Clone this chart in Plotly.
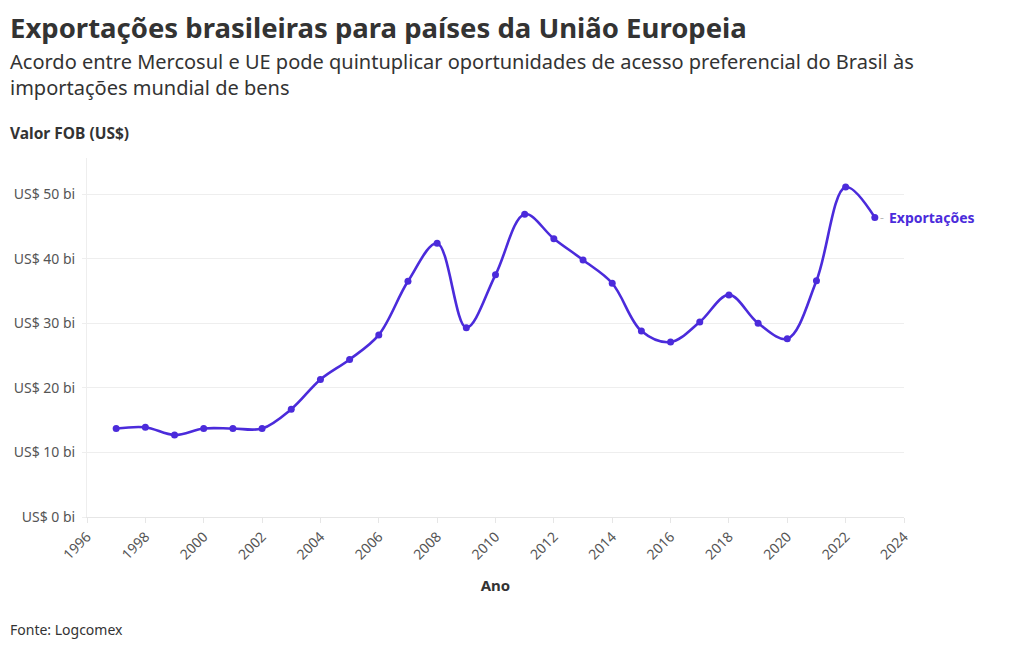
import plotly.graph_objects as go

years = list(range(1997, 2024))
exports_bi = [13.7, 13.9, 12.7, 13.7, 13.7, 13.7, 16.7, 21.3, 24.4, 28.2,
              36.5, 42.4, 29.3, 37.5, 46.9, 43.1, 39.8, 36.2, 28.8, 27.1,
              30.2, 34.4, 30.0, 27.6, 36.6, 51.1, 46.4]
series_name = "Exportações"
y_ticks = [0, 10, 20, 30, 40, 50]
y_ticklabels = ["US$ 0 bi", "US$ 10 bi", "US$ 20 bi", "US$ 30 bi", "US$ 40 bi", "US$ 50 bi"]

title = "Exportações brasileiras para países da União Europeia"
subtitle = ("Acordo entre Mercosul e UE pode quintuplicar oportunidades de acesso preferencial do Brasil às<br>"
            "importações mundial de bens")
y_title = "Valor FOB (US$)"
x_title = "Ano"
source = "Fonte: Logcomex"

FONT = "Noto Sans"
LINE = "#4B2BDB"
TXT = "#333333"
XS = -79

fig = go.Figure()
fig.add_trace(go.Scatter(
    x=years, y=exports_bi, mode="lines+markers", name=series_name,
    line=dict(color=LINE, width=2.6, shape="spline", smoothing=1.0),
    marker=dict(color=LINE, size=7),
    showlegend=False,
))

fig.add_annotation(
    x=years[-1], y=exports_bi[-1], xref="x", yref="y",
    text="<b>" + series_name + "</b>", showarrow=False,
    xanchor="left", yanchor="middle", xshift=12,
    font=dict(family=FONT, size=14, color=LINE),
)
fig.add_annotation(
    x=years[-1], y=exports_bi[-1], xref="x", yref="y",
    text="-", showarrow=False, xanchor="left", yanchor="middle", xshift=3,
    font=dict(family=FONT, size=12, color="#bbbbbb"),
)

fig.update_layout(
    width=1012, height=642,
    margin=dict(l=79, r=116, t=150, b=133),
    paper_bgcolor="white", plot_bgcolor="white",
    font=dict(family=FONT, color=TXT),
    annotations=list(fig.layout.annotations) + [
        dict(text="<b>" + title + "</b>", x=0, y=1, xref="paper", yref="paper",
             xanchor="left", yanchor="top", showarrow=False, xshift=XS, yshift=151,
             font=dict(family=FONT, size=27.5, color=TXT)),
        dict(text=subtitle, x=0, y=1, xref="paper", yref="paper",
             xanchor="left", yanchor="top", showarrow=False, xshift=XS, yshift=112, align="left",
             font=dict(family=FONT, size=20, color=TXT)),
        dict(text="<b>" + y_title + "</b>", x=0, y=1, xref="paper", yref="paper",
             xanchor="left", yanchor="top", showarrow=False, xshift=XS, yshift=38,
             font=dict(family=FONT, size=15.5, color=TXT)),
        dict(text=source, x=0, y=0, xref="paper", yref="paper",
             xanchor="left", yanchor="top", showarrow=False, xshift=XS, yshift=-101,
             font=dict(family=FONT, size=14, color=TXT)),
    ],
)

fig.update_xaxes(
    range=[1996, 2024], tickmode="linear", tick0=1996, dtick=2, tickangle=-45,
    showgrid=False, showline=True, linecolor="#e6e6e6", linewidth=1,
    ticks="outside", ticklen=5, tickcolor="#e6e6e6",
    tickfont=dict(family=FONT, size=14, color="#555555"),
    title=dict(text="<b>" + x_title + "</b>", font=dict(family=FONT, size=15, color=TXT), standoff=18),
    zeroline=False, automargin=False,
)
fig.update_yaxes(
    range=[0, 55.6], tickmode="array", tickvals=y_ticks, ticktext=y_ticklabels,
    showgrid=True, gridcolor="#eeeeee", gridwidth=1,
    showline=True, linecolor="#eeeeee", linewidth=1,
    ticks="outside", ticklen=4, tickcolor="#eeeeee", ticklabelstandoff=4,
    tickfont=dict(family=FONT, size=14, color="#555555"),
    zeroline=False, automargin=False,
)

fig.write_html("out.html")
